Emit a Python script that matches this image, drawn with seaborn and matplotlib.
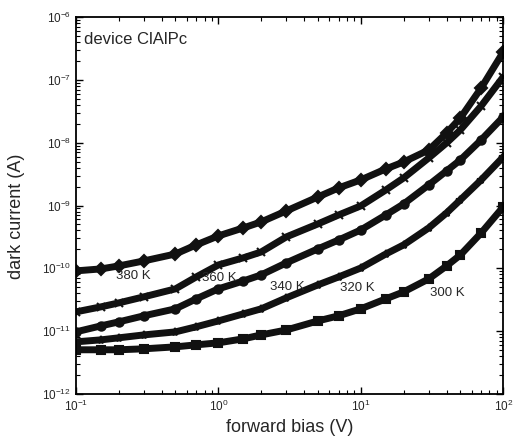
import numpy as np
import pandas as pd
import matplotlib
matplotlib.use("Agg")
import matplotlib.pyplot as plt
import seaborn as sns

# forward bias (V)
bias_v = [0.1, 0.15, 0.2, 0.3, 0.5, 0.7, 1, 1.5, 2, 3, 5, 7, 10, 15, 20, 30, 40, 50, 70, 100]

# dark current (A) for each temperature
i_380 = [9.09e-11, 9.77e-11, 1.09e-10, 1.31e-10, 1.69e-10, 2.36e-10, 3.28e-10, 4.40e-10, 5.48e-10, 8.20e-10,
         1.37e-9, 1.91e-9, 2.56e-9, 3.83e-9, 4.94e-9, 7.67e-9, 1.43e-8, 2.48e-8, 7.46e-8, 2.79e-7]
i_360 = [2.02e-11, 2.43e-11, 2.81e-11, 3.51e-11, 4.70e-11, 7.29e-11, 1.13e-10, 1.47e-10, 1.82e-10, 3.16e-10,
         5.09e-10, 7.08e-10, 9.86e-10, 1.77e-9, 2.75e-9, 5.73e-9, 9.93e-9, 1.60e-8, 3.86e-8, 1.12e-7]
i_340 = [9.70e-12, 1.21e-11, 1.40e-11, 1.75e-11, 2.26e-11, 3.26e-11, 4.70e-11, 6.29e-11, 7.85e-11, 1.22e-10,
         2.04e-10, 2.83e-10, 4.08e-10, 7.08e-10, 1.06e-9, 2.13e-9, 3.56e-9, 5.32e-9, 1.11e-8, 2.58e-8]
i_320 = [6.73e-12, 7.24e-12, 7.80e-12, 8.68e-12, 9.70e-12, 1.17e-11, 1.45e-11, 1.88e-11, 2.26e-11, 3.38e-11,
         5.44e-11, 7.29e-11, 1.01e-10, 1.69e-10, 2.36e-10, 4.40e-10, 7.62e-10, 1.23e-9, 2.56e-9, 5.94e-9]
i_300 = [5.03e-12, 5.03e-12, 5.03e-12, 5.21e-12, 5.60e-12, 6.03e-12, 6.49e-12, 7.52e-12, 8.68e-12, 1.04e-11,
         1.45e-11, 1.75e-11, 2.26e-11, 3.26e-11, 4.21e-11, 6.78e-11, 1.09e-10, 1.63e-10, 3.66e-10, 9.51e-10]

temps = ["380 K", "360 K", "340 K", "320 K", "300 K"]
markers = ["D", "x", "o", "*", "s"]
label_x = [0.19, 0.77, 2.3, 7.2, 30.7]
label_y = [7.6e-11, 7.1e-11, 5.0e-11, 4.9e-11, 4.1e-11]

sns.set_style("ticks")
plt.rcParams['font.family'] = ['Liberation Sans', 'DejaVu Sans']
plt.rcParams['mathtext.fontset'] = 'custom'
plt.rcParams['mathtext.rm'] = 'Liberation Sans'

fig = plt.figure(figsize=(5.13, 4.41), dpi=100)
ax = fig.add_axes([0.148, 0.107, 0.833, 0.854])

for t, cur, m in zip(temps, [i_380, i_360, i_340, i_320, i_300], markers):
    df = pd.DataFrame({'bias': bias_v, 'current': cur})
    sns.lineplot(data=df, x='bias', y='current', color='#111111', lw=5,
                 marker=m, markersize=6, markeredgecolor='#111111',
                 markeredgewidth=1.5, ax=ax)

for t, lx, ly in zip(temps, label_x, label_y):
    ax.text(lx, ly, t, fontsize=9.5, ha='left', va='center')

ax.text(0.114, 4.4e-7, "device ClAlPc", fontsize=12, ha='left', va='center')

ax.set_xscale('log')
ax.set_yscale('log')
ax.set_xlim(0.1, 100)
ax.set_ylim(1e-12, 1e-6)
ax.set_xlabel('forward bias (V)', fontsize=13)
ax.set_ylabel('dark current (A)', fontsize=13)
ax.yaxis.set_label_coords(-0.118, 0.47)
ax.tick_params(which='both', direction='in', top=True, right=True, labelsize=8.5, color='black')
ax.tick_params(which='major', length=5, width=1)
ax.tick_params(which='minor', length=3, width=0.8)
for s in ax.spines.values():
    s.set_color('black')
    s.set_linewidth(1.3)

fig.savefig('out.png', dpi=100)
